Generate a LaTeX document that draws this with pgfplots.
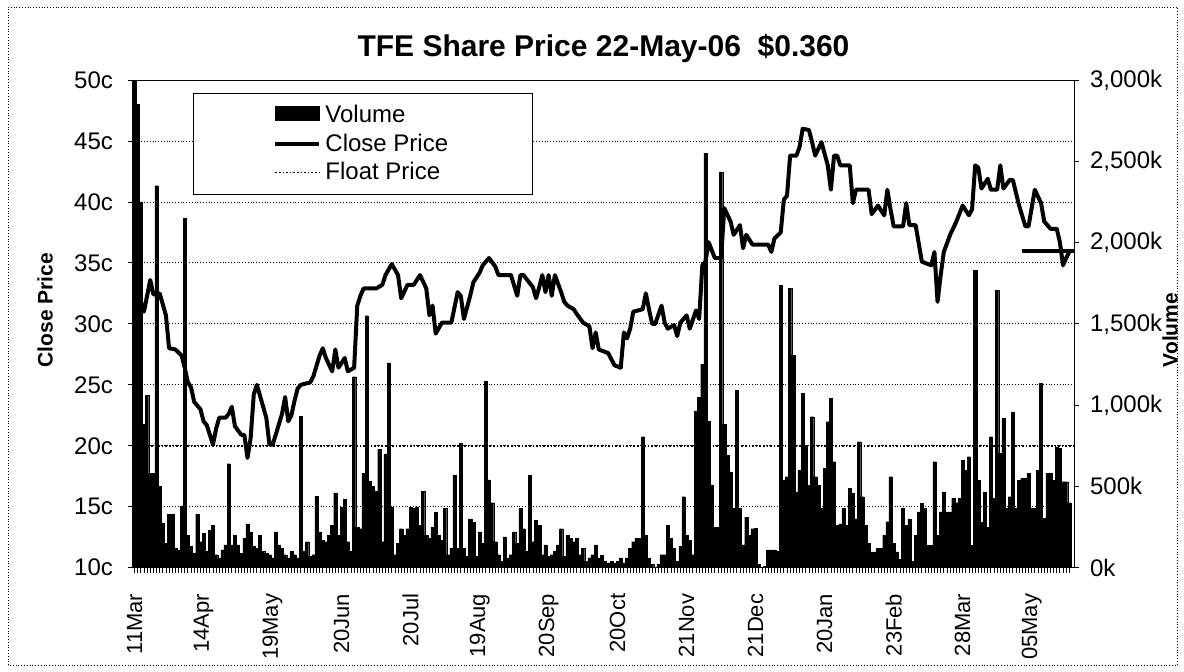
\documentclass[border=0pt]{standalone}
\usepackage{fontspec}
\setmainfont{Liberation Sans}
\usepackage{pgfplots}
\pgfplotsset{compat=1.18}
\usepackage{pgfplotstable}

\pgfplotstableread{
i v
0 3100
1 2850
2 2250
3 880
4 1060
5 580
6 580
7 2350
8 500
9 275
10 150
11 330
12 330
13 120
14 110
15 380
16 2150
17 200
18 130
19 90
20 330
21 160
22 210
23 100
24 230
25 260
26 80
27 60
28 110
29 140
30 640
31 140
32 200
33 140
34 90
35 180
36 270
37 220
38 130
39 120
40 200
41 100
42 90
43 80
44 60
45 220
46 140
47 120
48 80
49 60
50 100
51 80
52 60
53 930
54 100
55 160
56 70
57 80
58 440
59 220
60 170
61 160
62 200
63 260
64 460
65 200
66 370
67 420
68 160
69 100
70 1175
71 250
72 240
73 580
74 1550
75 530
76 500
77 470
78 730
79 160
80 700
81 1260
82 370
83 80
84 150
85 240
86 200
87 240
88 370
89 365
90 375
91 260
92 470
93 200
94 180
95 250
96 340
97 200
98 170
99 365
100 80
101 120
102 570
103 120
104 765
105 120
106 70
107 300
108 280
109 70
110 220
111 150
112 1145
113 540
114 400
115 160
116 80
117 40
118 190
119 60
120 80
121 220
122 150
123 365
124 240
125 100
126 570
127 160
128 290
129 260
130 80
131 140
132 70
133 80
134 100
135 140
136 240
137 70
138 200
139 180
140 160
141 180
142 80
143 120
144 40
145 60
146 80
147 140
148 60
149 78
150 40
151 30
152 40
153 30
154 40
155 60
156 30
157 60
158 120
159 160
160 180
161 180
162 806
163 200
164 60
165 20
166 0
167 20
168 80
169 80
170 262
171 180
172 120
173 40
174 130
175 437
176 200
177 170
178 80
179 960
180 1050
181 1250
182 2550
183 900
184 510
185 250
186 250
187 2435
188 880
189 690
190 590
191 365
192 1090
193 365
194 140
195 310
196 200
197 240
198 242
199 20
200 0
201 10
202 109
203 109
204 109
205 100
206 1738
207 540
208 560
209 1718
210 1308
211 467
212 600
213 1072
214 754
215 508
216 929
217 560
218 508
219 365
220 611
221 898
222 1041
223 652
224 262
225 270
226 365
227 262
228 488
229 457
230 300
231 775
232 437
233 262
234 150
235 98
236 98
237 120
238 120
239 200
240 283
241 560
242 150
243 98
244 50
245 365
246 262
247 300
248 40
249 200
250 344
251 396
252 365
253 139
254 139
255 652
256 200
257 344
258 467
259 344
260 344
261 426
262 400
263 426
264 662
265 600
266 683
267 139
268 1830
269 539
270 280
271 467
272 250
273 806
274 426
275 1708
276 703
277 918
278 365
279 437
280 959
281 365
282 539
283 549
284 549
285 580
286 365
287 365
288 600
289 1134
290 303
291 580
292 580
293 539
294 744
295 734
296 529
297 529
298 400
}\voltable

\begin{document}
\begin{tikzpicture}[x=1pt,y=1pt]
\def\W{470.5pt}
\def\H{243.85pt}
\pgfplotsset{
  common/.style={
    at={(0,0)}, anchor=south west, scale only axis,
    width=\W, height=\H,
    xmin=-0.5, xmax=299.5,
    yticklabel style={font=\fontsize{12}{14}\selectfont},
    xticklabel style={font=\fontsize{11}{13}\selectfont},
    tick align=outside,
    major tick length=2.5pt,
    minor tick length=2.5pt,
    axis line style={line width=0.5pt},
    tick style={line width=0.4pt, black},
  }
}
% Volume (right axis)
\begin{axis}[common,
  ymin=0, ymax=3000,
  axis y line*=right, axis x line=none,
  ytick={0,500,...,3000},
  yticklabels={0k,500k,{1,000k},{1,500k},{2,000k},{2,500k},{3,000k}},
  yticklabel style={xshift=2pt},
]
\addplot[ybar, bar width=1, fill=black, draw=black, line width=0.15pt] table[x=i,y=v]{\voltable};
\end{axis}
% Close price (left axis)
\begin{axis}[common,
  ymin=10, ymax=50,
  xtick pos=bottom, ytick pos=left,
  ytick={10,15,...,50},
  yticklabels={10c,15c,20c,25c,30c,35c,40c,45c,50c},
  yticklabel style={xshift=-4pt},
  ymajorgrids,
  major grid style={black, densely dotted, line width=0.4pt},
  xtick={0,22,...,286},
  xticklabels={11Mar,14Apr,19May,20Jun,20Jul,19Aug,20Sep,20Oct,21Nov,21Dec,20Jan,23Feb,28Mar,05May},
  minor xtick={1,2,...,298},
  xticklabel style={rotate=90, anchor=east, xshift=-7pt},
  legend cell align=left,
  legend style={at={(rel axis cs:0.0638,0.973)}, anchor=north west,
    draw=black, line width=0.4pt, fill=white,
    font=\fontsize{12}{14}\selectfont,
    inner xsep=40pt, inner ysep=4pt, row sep=0pt},
]
\addlegendimage{legend image code/.code={\fill[black] (0pt,-0.25em) rectangle (22pt,0.45em);}}
\addlegendentry{Volume}
\addplot[black, line width=2pt, line join=round,
  legend image code/.code={\draw[black, line width=2pt] (0pt,0pt) -- (22pt,0pt);}]
coordinates {
(0,33.0)(1,32.6)(3,31.0)(5,33.6)(6,32.4)(8,32.5)(10,30.7)(11,28.0)(13,27.9)(15,27.4)
(16,26.4)(17,25.2)(18,24.8)(19,23.6)(21,23.0)(22,22.0)(23,21.7)(25,20.1)(26,21.4)(27,22.3)
(29,22.3)(30,22.6)(31,23.2)(32,21.6)(34,20.9)(35,20.9)(36,19.0)(37,20.6)(38,24.2)(39,25.0)
(41,23.2)(42,22.3)(43,20.1)(44,20.1)(45,20.9)(47,22.6)(48,24.0)(49,22.0)(50,22.5)(51,23.7)
(52,24.7)(53,25.0)(56,25.2)(57,25.7)(59,27.4)(60,28.0)(61,27.2)(63,26.1)(64,27.9)(65,26.4)
(67,27.2)(68,26.1)(70,26.4)(71,31.5)(72,32.3)(73,32.9)(77,32.9)(79,33.2)(80,34.0)(82,34.9)
(84,34.0)(85,32.1)(87,33.2)(89,33.2)(91,34.0)(93,32.9)(94,30.7)(95,31.5)(96,29.2)(98,30.1)
(101,30.1)(103,32.6)(104,32.3)(105,30.4)(107,32.3)(108,33.4)(110,34.2)(111,34.8)(113,35.4)(115,34.7)
(116,34.0)(120,34.0)(122,32.3)(123,34.0)(124,34.0)(127,33.0)(128,32.1)(129,33.0)(130,34.0)(131,32.6)
(132,34.0)(133,32.3)(134,34.0)(136,32.6)(137,31.8)(138,31.5)(140,31.2)(141,30.8)(143,30.1)(145,29.8)
(146,28.0)(147,29.3)(148,27.9)(151,27.6)(153,26.6)(155,26.4)(156,29.3)(157,28.8)(158,29.6)(159,31.0)
(162,31.2)(163,32.5)(164,31.2)(165,30.0)(166,30.0)(168,31.5)(169,30.1)(170,29.6)(172,29.9)(173,29.0)
(174,30.1)(176,30.7)(177,29.6)(179,31.1)(180,30.4)(181,34.8)(182,35.1)(183,36.7)(185,35.4)(187,35.4)
(188,39.5)(190,38.4)(191,37.3)(193,38.1)(194,36.2)(195,37.3)(197,36.5)(198,36.5)(202,36.5)(203,35.9)
(204,37.0)(206,37.5)(207,40.2)(208,40.5)(209,43.8)(211,43.8)(212,44.5)(213,46.0)(215,45.9)(216,44.9)
(217,43.8)(219,44.9)(221,43.0)(222,41.0)(223,43.8)(224,43.8)(225,43.0)(228,43.0)(229,39.9)(230,41.0)
(234,41.0)(235,39.0)(237,39.7)(239,38.9)(240,41.0)(241,39.4)(242,38.0)(245,38.0)(246,39.9)(247,38.1)
(249,38.1)(251,35.1)(254,34.8)(255,35.9)(256,31.8)(257,34.0)(258,35.9)(260,37.3)(262,38.4)(264,39.7)
(266,38.9)(267,39.4)(268,43.0)(269,42.8)(270,41.1)(272,41.9)(273,41.0)(275,41.0)(276,43.0)(277,41.1)
(279,41.8)(280,41.8)(282,39.7)(284,38.0)(285,38.0)(287,41.0)(289,39.9)(290,38.4)(292,37.8)(294,37.8)
(295,36.7)(296,34.8)(297,35.4)(298,35.9)
};
\addlegendentry{Close Price}
\addplot[black, densely dotted, line width=0.8pt,
  legend image code/.code={\draw[black, densely dotted, line width=0.8pt] (0pt,0pt) -- (22pt,0pt);}]
coordinates {(-0.5,20) (299.5,20)};
\addlegendentry{Float Price}
\addplot[black, line width=2.2pt, forget plot] coordinates {(283,36) (299.5,36)};
\end{axis}
% titles and labels
\node[font=\bfseries\fontsize{15}{17}\selectfont] at (235.25pt,259.85pt) {TFE Share Price 22-May-06\ \ \$0.360};
\node[font=\bfseries\fontsize{10.5}{12}\selectfont, rotate=90] at (-44pt,128.85pt) {Close Price};
\node[font=\bfseries\fontsize{10.5}{12}\selectfont, rotate=90] at (518.5pt,118.85pt) {Volume};
\draw[densely dotted, line width=0.4pt] (-62.5pt,-48.65pt) rectangle (522pt,280.35pt);
\pgfresetboundingbox
\useasboundingbox (-66.5pt,-51.65pt) rectangle (525.5pt,283.85pt);
\end{tikzpicture}
\end{document}
